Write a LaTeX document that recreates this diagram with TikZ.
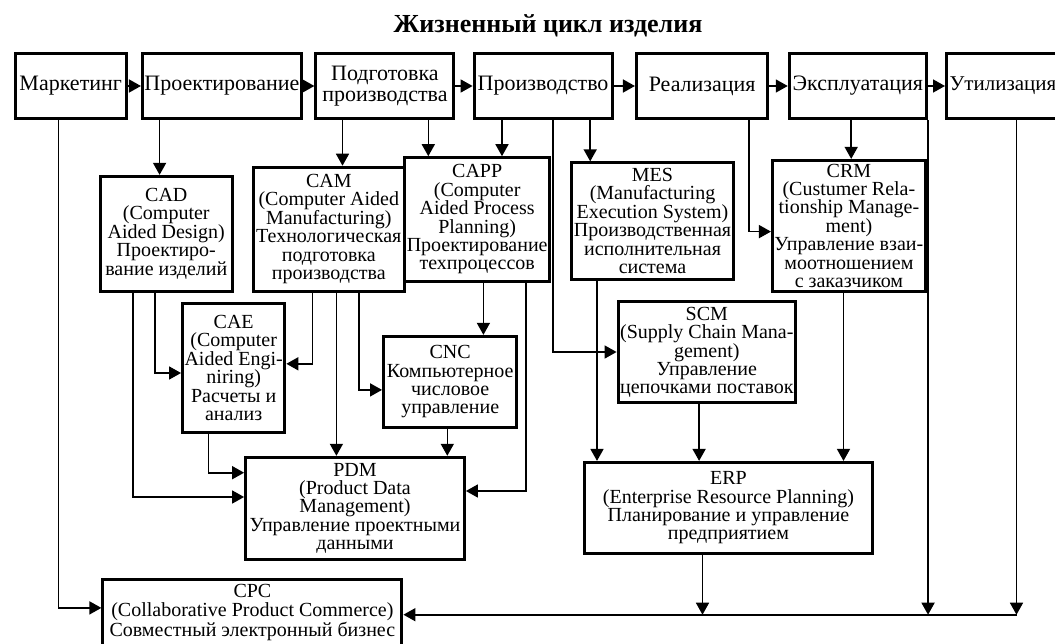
\documentclass[tikz,border=0pt]{standalone}
\usepackage{fontspec}
\setmainfont{Liberation Serif}
\usetikzlibrary{arrows.meta}
\begin{document}
\begin{tikzpicture}[x=0.5pt,y=-0.5pt,
  box/.style={draw, line width=1.5pt, align=center, inner sep=1pt, font=\fontsize{10}{9.2}\selectfont},
  topbox/.style={box, font=\fontsize{11}{10.6}\selectfont, minimum height=32.85pt},
  arr/.style={line width=0.8pt, -{Triangle[length=6pt,width=6.5pt]}},
  ln/.style={line width=0.8pt}]
\useasboundingbox (0,0) rectangle (1055,643);

\node[anchor=base, font=\fontsize{13}{14}\selectfont\bfseries] (title) at (548,32) {Жизненный цикл изделия};

% top row
\node[topbox, minimum width=55.65pt] (mkt) at (70.7,86) {Маркетинг};
\node[topbox, minimum width=73.4pt] (proj) at (221.9,86) {Проектирование};
\node[topbox, minimum width=69pt] (prep) at (384.9,86) {Подготовка\\производства};
\node[topbox, minimum width=69pt] (prod) at (543.1,86) {Производство};
\node[topbox, minimum width=65.75pt] (real) at (702.2,86) {Реализация};
\node[topbox, minimum width=68.65pt] (expl) at (857.9,86) {Эксплуатация};
\node[topbox, minimum width=66pt, text width=64pt, align=left, font=\fontsize{10.5}{10.6}\selectfont] (util) at (1012.5,86) {\hspace*{0.5pt}Утилизация};

% second level
\node[box, minimum width=66.1pt, minimum height=57.35pt] (cad) at (166.3,233.7)
  {CAD\\(Computer\\Aided Design)\\Проектиро-\\вание изделий};
\node[box, minimum width=75.4pt, minimum height=61.9pt] (cam) at (328.8,229.1)
  {CAM\\(Computer Aided\\Manufacturing)\\Технологическая\\подготовка\\производства};
\node[box, minimum width=63.25pt, minimum height=61.7pt] (capp) at (477.2,219.4)
  {CAPP\\(Computer\\Aided Process\\Planning)\\Проектирование\\техпроцессов};
\node[box, minimum width=78.65pt, minimum height=58.15pt] (mes) at (652.5,221)
  {MES\\(Manufacturing\\Execution System)\\Производственная\\исполнительная\\система};
\node[box, minimum width=74.55pt, minimum height=65.3pt] (crm) at (848.9,225.7)
  {CRM\\(Custumer Rela-\\tionship Manage-\\ment)\\Управление взаи-\\моотношением\\с заказчиком};

% third level
\node[box, minimum width=49.55pt, minimum height=64.4pt] (cae) at (233.7,367.9)
  {CAE\\(Computer\\Aided Engi-\\niring)\\Расчеты и\\анализ};
\node[box, minimum width=66.65pt, minimum height=45.45pt] (cnc) at (450.2,381.8)
  {CNC\\Компьютерное\\числовое\\управление};
\node[box, minimum width=88.25pt, minimum height=50.55pt] (scm) at (706.8,352.4)
  {SCM\\(Supply Chain Mana-\\gement)\\Управление\\цепочками поставок};

% fourth level
\node[box, minimum width=109.4pt, minimum height=50.9pt] (pdm) at (355,508.2)
  {PDM\\(Product Data\\Management)\\Управление проектными\\данными};
\node[box, minimum width=144.35pt, minimum height=45.5pt] (erp) at (728.4,507.9)
  {ERP\\(Enterprise Resource Planning)\\Планирование и управление\\предприятием};

% bottom
\node[box, anchor=north, minimum width=149.5pt, inner ysep=2.5pt] (cpc) at (252.4,578)
  {CPC\\(Collaborative Product Commerce)\\Совместный электронный бизнес\\[14pt]\mbox{}};

\coordinate (busR) at (1016.5,614.7);

% top row arrows
\draw[arr] (mkt) -- (proj);
\draw[arr] (proj) -- (prep);
\draw[arr] (prep) -- (prod);
\draw[arr] (prod) -- (real);
\draw[arr] (real) -- (expl);
\draw[arr] (expl) -- (util);

% down from top row
\draw[arr] (proj.south -| 159.6,0) -- (cad.north -| 159.6,0);
\draw[arr] (prep.south -| 342.5,0) -- (cam.north -| 342.5,0);
\draw[arr] (prep.south -| 428.3,0) -- (capp.north -| 428.3,0);
\draw[arr] (prod.south -| 502,0) -- (capp.north -| 502,0);
\draw[arr] (prod.south -| 590.2,0) -- (mes.north -| 590.2,0);
\draw[arr] (prod.south -| 552.7,0) |- (scm.west |- 0,352);
\draw[arr] (real.south -| 749.1,0) |- (crm.west |- 0,231.6);
\draw[arr] (expl.south -| 851.2,0) -- (crm.north -| 851.2,0);
\draw[arr] (mkt.south -| 58.5,0) |- (cpc.west |- 0,607.9);
\draw[arr] (expl.south east) -- (expl.south east |- busR);
\draw[arr] (util.south -| busR) -- (busR);
\draw[arr] (busR) -- (cpc.east |- busR);
\draw[arr] (erp.south -| 702.5,0) -- (busR -| 702.5,0);

% lower connectors
\draw[arr] (cad.south -| 132.9,0) |- (pdm.west |- 0,497);
\draw[arr] (cad.south -| 154.8,0) |- (cae.west |- 0,373);
\draw[arr] (cam.south -| 312.4,0) |- (cae.east |- 0,363.8);
\draw[arr] (cam.south -| 336.4,0) -- (pdm.north -| 336.4,0);
\draw[arr] (cam.south -| 359,0) |- (cnc.west |- 0,389.9);
\draw[arr] (capp.south -| 483.4,0) -- (cnc.north -| 483.4,0);
\draw[arr] (capp.south -| 526,0) |- (pdm.east |- 0,491);
\draw[arr] (cnc.south -| 447.3,0) -- (pdm.north -| 447.3,0);
\draw[arr] (cae.south -| 208.6,0) |- (pdm.west |- 0,472.7);
\draw[arr] (mes.south -| 597,0) -- (erp.north -| 597,0);
\draw[arr] (scm.south -| 699.1,0) -- (erp.north -| 699.1,0);
\draw[arr] (crm.south -| 843.5,0) -- (erp.north -| 843.5,0);
\end{tikzpicture}
\end{document}
